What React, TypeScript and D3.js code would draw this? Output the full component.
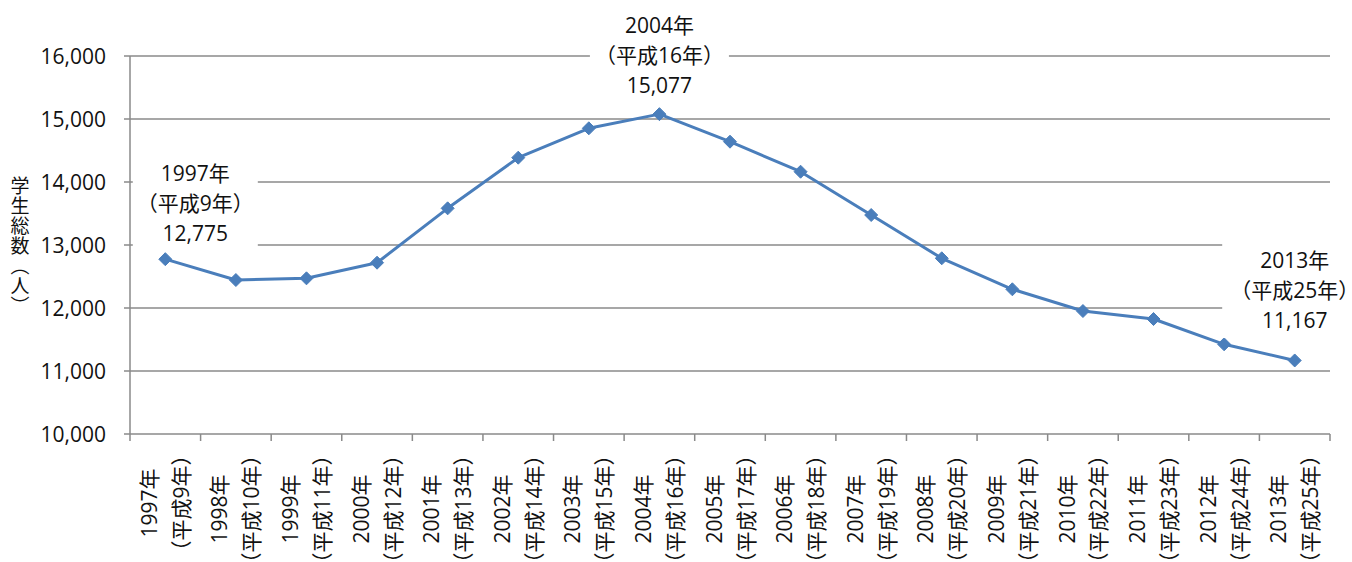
import React, { useEffect, useRef } from "react";
import * as d3 from "d3";

const years = [1997, 1998, 1999, 2000, 2001, 2002, 2003, 2004, 2005, 2006, 2007, 2008, 2009, 2010, 2011, 2012, 2013];
const heisei = [9, 10, 11, 12, 13, 14, 15, 16, 17, 18, 19, 20, 21, 22, 23, 24, 25];
const students = [12775, 12444, 12471, 12719, 13582, 14386, 14852, 15077, 14640, 14163, 13476, 12789, 12297, 11952, 11825, 11424, 11167];
const yTicks = [10000, 11000, 12000, 13000, 14000, 15000, 16000];
const annotatedYears = [1997, 2004, 2013];
const yAxisTitle = "学生総数（人）";

const W = 1352;
const H = 562;
const FONT = "'Open Sans', 'Noto Sans CJK JP', sans-serif";
const FS = 21;
const LINE_COLOR = "#4A7EBB";
const GRID_COLOR = "#8a8a8a";

// label placement offsets (layout only)
const annOffsets: Record<number, { dx: number; dy: number; padL: number; padR: number }> = {
  1997: { dx: 30, dy: -26, padL: 4, padR: 4 },
  2004: { dx: 0, dy: -29, padL: 5, padR: 5 },
  2013: { dx: 0, dy: -40, padL: 8, padR: 8 },
};

export default function App() {
  const ref = useRef<SVGSVGElement | null>(null);

  useEffect(() => {
    const svg = d3.select(ref.current);
    svg.selectAll("*").remove();

    const left = 130, right = 1330, top = 56, bottom = 434;
    const x = d3.scaleBand<number>().domain(years).range([left, right]).padding(0);
    const y = d3.scaleLinear().domain([10000, 16000]).range([bottom, top]);
    const cx = (yr: number) => (x(yr) as number) + x.bandwidth() / 2;
    const fmt = d3.format(",");

    // gridlines
    svg.append("g")
      .selectAll("line")
      .data(yTicks.filter((t) => t > 10000))
      .join("line")
      .attr("x1", left).attr("x2", right)
      .attr("y1", (d) => y(d)).attr("y2", (d) => y(d))
      .attr("stroke", GRID_COLOR).attr("stroke-width", 1.5);

    // y axis
    const yAxis = svg.append("g");
    yAxis.append("line")
      .attr("x1", left).attr("x2", left).attr("y1", top).attr("y2", bottom)
      .attr("stroke", GRID_COLOR).attr("stroke-width", 1.5);
    yAxis.selectAll("line.tick")
      .data(yTicks)
      .join("line")
      .attr("class", "tick")
      .attr("x1", left - 6).attr("x2", left)
      .attr("y1", (d) => y(d)).attr("y2", (d) => y(d))
      .attr("stroke", GRID_COLOR).attr("stroke-width", 1.5);
    yAxis.selectAll("text")
      .data(yTicks)
      .join("text")
      .attr("x", 106)
      .attr("y", (d) => y(d))
      .attr("dy", "0.36em")
      .attr("text-anchor", "end")
      .attr("font-family", FONT)
      .attr("font-size", FS)
      .attr("fill", "#111")
      .text((d) => fmt(d));

    // x axis
    const xAxis = svg.append("g");
    xAxis.append("line")
      .attr("x1", left).attr("x2", right).attr("y1", bottom).attr("y2", bottom)
      .attr("stroke", GRID_COLOR).attr("stroke-width", 1.5);
    const bounds = years.map((yr) => x(yr) as number).concat([right]);
    xAxis.selectAll("line.tick")
      .data(bounds)
      .join("line")
      .attr("class", "tick")
      .attr("x1", (d) => d).attr("x2", (d) => d)
      .attr("y1", bottom).attr("y2", bottom + 7)
      .attr("stroke", GRID_COLOR).attr("stroke-width", 1.5);

    const xl = xAxis.selectAll("g.xl")
      .data(years.map((yr, i) => ({ yr, h: heisei[i] })))
      .join("g")
      .attr("class", "xl")
      .attr("transform", (d) => {
        const c = 455 + (String(d.h).length === 1 ? 48 : 54);
        return `translate(${cx(d.yr)},${c}) rotate(-90)`;
      });
    xl.append("text")
      .attr("x", 0).attr("y", -16).attr("dy", "0.36em")
      .attr("text-anchor", "middle")
      .attr("font-family", FONT).attr("font-size", FS).attr("fill", "#111")
      .text((d) => `${d.yr}年`);
    xl.append("text")
      .attr("x", 0).attr("y", 16).attr("dy", "0.36em")
      .attr("text-anchor", "middle")
      .attr("font-family", FONT).attr("font-size", FS).attr("fill", "#111")
      .text((d) => `（平成${d.h}年）`);

    // y axis title (vertical)
    svg.append("text")
      .attr("x", 20).attr("y", 246)
      .attr("text-anchor", "middle")
      .attr("font-family", "'Noto Sans CJK JP', sans-serif")
      .attr("font-size", 19)
      .attr("letter-spacing", 1)
      .style("writing-mode", "vertical-rl")
      .attr("fill", "#111")
      .text(yAxisTitle);

    // line
    const pts = years.map((yr, i) => [cx(yr), y(students[i])] as [number, number]);
    svg.append("path")
      .attr("d", d3.line()(pts) as string)
      .attr("fill", "none")
      .attr("stroke", LINE_COLOR)
      .attr("stroke-width", 3)
      .attr("stroke-linejoin", "round");

    const r = 6.5;
    svg.append("g")
      .selectAll("path")
      .data(pts)
      .join("path")
      .attr("d", (p) => `M${p[0]},${p[1] - r}L${p[0] + r},${p[1]}L${p[0]},${p[1] + r}L${p[0] - r},${p[1]}Z`)
      .attr("fill", LINE_COLOR)
      .attr("stroke", LINE_COLOR)
      .attr("stroke-width", 1);

    // annotations
    annotatedYears.forEach((yr) => {
      const i = years.indexOf(yr);
      const o = annOffsets[yr];
      const ax = cx(yr) + o.dx;
      const ay = y(students[i]) + o.dy;
      const g = svg.append("g");
      const rect = g.append("rect").attr("fill", "#fff");
      const lines = [`${yr}年`, `（平成${heisei[i]}年）`, fmt(students[i])];
      lines.forEach((t, k) => {
        g.append("text")
          .attr("x", ax)
          .attr("y", ay - (2 - k) * 30)
          .attr("dy", "0.36em")
          .attr("text-anchor", "middle")
          .attr("font-family", FONT)
          .attr("font-size", FS)
          .attr("fill", "#111")
          .text(t);
      });
      const bb = (g.node() as SVGGElement).getBBox();
      rect
        .attr("x", bb.x - o.padL)
        .attr("y", bb.y - 4)
        .attr("width", bb.width + o.padL + o.padR)
        .attr("height", bb.height + 8);
    });
  }, []);

  return (
    <svg
      ref={ref}
      width={W}
      height={H}
      style={{ position: "absolute", left: 0, top: 0, background: "#fff" }}
    />
  );
}
